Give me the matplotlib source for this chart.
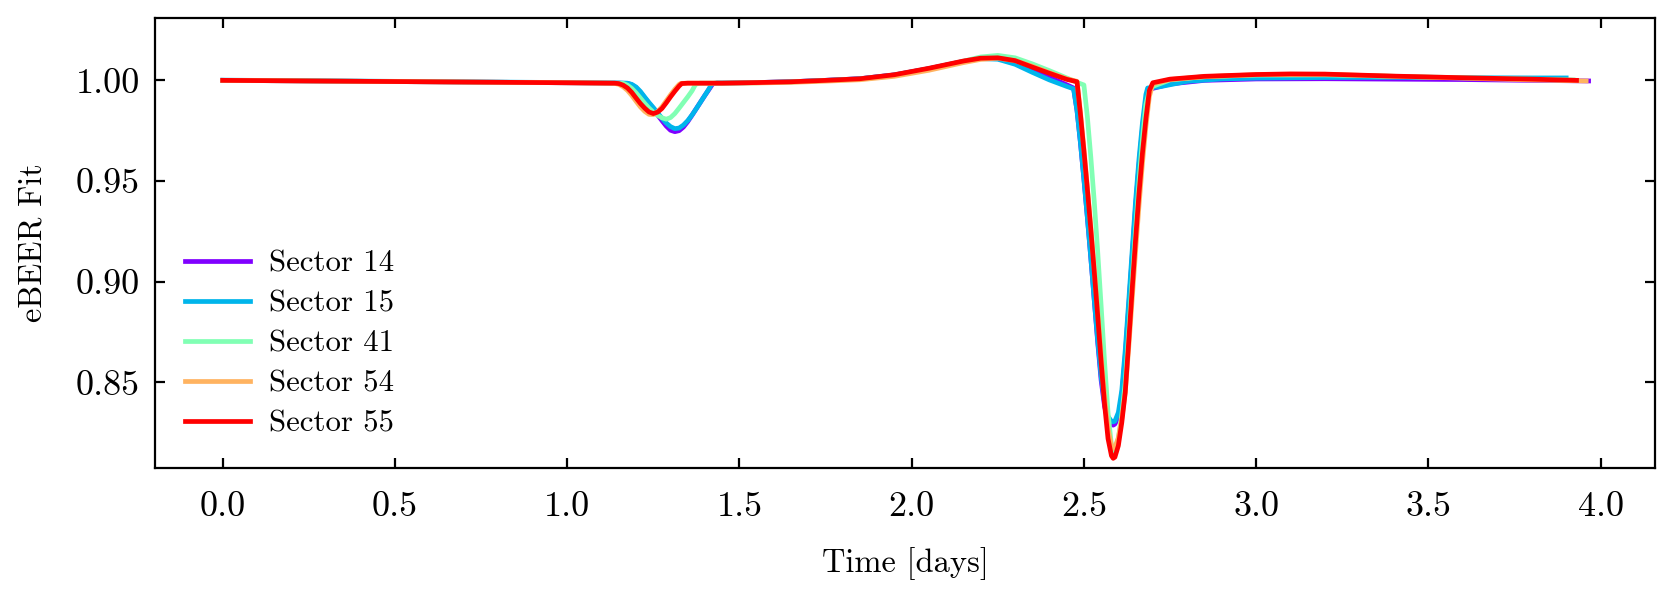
import numpy as np
import matplotlib
matplotlib.use("Agg")
import matplotlib.pyplot as plt

plt.rcParams["font.family"] = "serif"
plt.rcParams["font.serif"] = ["cmr10"]
plt.rcParams["mathtext.fontset"] = "cm"
plt.rcParams["axes.unicode_minus"] = False
plt.rcParams["font.size"] = 11.7
plt.rcParams["xtick.labelsize"] = 13
plt.rcParams["ytick.labelsize"] = 13

labels = ["Sector 14", "Sector 15", "Sector 41", "Sector 54", "Sector 55"]

# sector 14
t14 = [0.0, 0.5, 1.0, 1.15, 1.175, 1.1875, 1.2, 1.2125, 1.225, 1.2375, 1.25, 1.2625, 1.275, 1.2875,
       1.3, 1.3125, 1.325, 1.3375, 1.35, 1.3625, 1.375, 1.3875, 1.4, 1.4125, 1.4225, 1.435, 1.45,
       1.55, 1.65, 1.75, 1.85, 1.95, 2.05, 2.15, 2.2, 2.25, 2.3, 2.35, 2.4, 2.45, 2.47,
       2.48, 2.49, 2.5, 2.51, 2.52, 2.53, 2.54, 2.55, 2.56, 2.57, 2.58, 2.585, 2.59, 2.6, 2.61,
       2.62, 2.63, 2.64, 2.65, 2.66, 2.67, 2.68, 2.685, 2.7, 2.75, 2.85, 3.0, 3.2, 3.4, 3.6, 3.8, 3.965]
f14 = [1.0000, 0.9994, 0.9988, 0.9986, 0.9985, 0.9978, 0.9963, 0.9940, 0.9913, 0.9886, 0.9858, 0.9828,
       0.9800, 0.9773, 0.9752, 0.9745, 0.9750, 0.9768, 0.9795, 0.9827, 0.9860, 0.9893, 0.9926, 0.9957,
       0.9983, 0.9986, 0.9986,
       0.9989, 0.9993, 1.0000, 1.0008, 1.0027, 1.0058, 1.0094, 1.0108, 1.0108, 1.0088, 1.0052, 1.0015,
       0.9978, 0.9962,
       0.9850, 0.9690, 0.9510, 0.9320, 0.9120, 0.8910, 0.8700, 0.8510, 0.8380, 0.8310, 0.8290, 0.8287,
       0.8292, 0.8330, 0.8430,
       0.8630, 0.8870, 0.9120, 0.9370, 0.9580, 0.9760, 0.9900, 0.9950, 0.9960, 0.9982, 1.0000, 1.0007,
       1.0008, 1.0006, 1.0004, 1.0000, 0.9997]

# sector 15
t15 = [0.0, 0.5, 1.0, 1.15, 1.175, 1.1875, 1.2, 1.2125, 1.225, 1.2375, 1.25, 1.2625, 1.275, 1.2875,
       1.3, 1.3125, 1.325, 1.3375, 1.35, 1.3625, 1.375, 1.3875, 1.4, 1.4125, 1.42, 1.435, 1.45,
       1.55, 1.65, 1.75, 1.85, 1.95, 2.05, 2.15, 2.2, 2.25, 2.3, 2.35, 2.4, 2.45, 2.47,
       2.48, 2.49, 2.5, 2.51, 2.52, 2.53, 2.54, 2.55, 2.56, 2.57, 2.58, 2.585, 2.59, 2.6, 2.61,
       2.62, 2.63, 2.64, 2.65, 2.66, 2.67, 2.68, 2.685, 2.72, 2.8, 2.9, 3.0, 3.2, 3.4, 3.6, 3.8, 3.9]
f15 = [1.0001, 0.9995, 0.9989, 0.9987, 0.9986, 0.9980, 0.9967, 0.9945, 0.9917, 0.9890, 0.9865, 0.9838,
       0.9812, 0.9788, 0.9770, 0.9760, 0.9763, 0.9778, 0.9800, 0.9828, 0.9860, 0.9893, 0.9926, 0.9960,
       0.9984, 0.9987, 0.9987,
       0.9989, 0.9993, 1.0000, 1.0008, 1.0027, 1.0058, 1.0094, 1.0108, 1.0105, 1.0080, 1.0040, 1.0002,
       0.9970, 0.9958,
       0.9850, 0.9690, 0.9510, 0.9320, 0.9120, 0.8910, 0.8710, 0.8530, 0.8400, 0.8330, 0.8306, 0.8303,
       0.8307, 0.8350, 0.8460,
       0.8660, 0.8900, 0.9150, 0.9400, 0.9610, 0.9790, 0.9930, 0.9962, 0.9968, 0.9995, 1.0007, 1.0011,
       1.0014, 1.0015, 1.0013, 1.0012, 1.0012]

# sector 41
t41 = [0.0, 0.5, 1.0, 1.15, 1.1625, 1.175, 1.1875, 1.2, 1.2125, 1.225, 1.2375, 1.25, 1.2625, 1.275,
       1.2875, 1.3, 1.3125, 1.325, 1.3375, 1.35, 1.3625, 1.3725, 1.385, 1.45,
       1.55, 1.65, 1.75, 1.85, 1.95, 2.05, 2.15, 2.2, 2.25, 2.3, 2.35, 2.4, 2.45, 2.48, 2.5,
       2.51, 2.52, 2.53, 2.54, 2.55, 2.56, 2.57, 2.58, 2.585, 2.59, 2.6, 2.61,
       2.62, 2.63, 2.64, 2.65, 2.66, 2.67, 2.68, 2.69, 2.7, 2.75, 2.85, 3.0, 3.2, 3.4, 3.6, 3.8, 3.92]
f41 = [1.0000, 0.9994, 0.9988, 0.9986, 0.9985, 0.9976, 0.9960, 0.9938, 0.9912, 0.9886, 0.9862, 0.9842,
       0.9826, 0.9814, 0.9807, 0.9815, 0.9835, 0.9862, 0.9890, 0.9918, 0.9948, 0.9980, 0.9986, 0.9986,
       0.9988, 0.9992, 0.9999, 1.0006, 1.0024, 1.0055, 1.0095, 1.0116, 1.0124, 1.0112, 1.0082, 1.0048,
       1.0012, 0.9990, 0.9977,
       0.9820, 0.9620, 0.9400, 0.9150, 0.8880, 0.8600, 0.8350, 0.8185, 0.8155, 0.8160, 0.8220, 0.8340,
       0.8500, 0.8750, 0.9010, 0.9260, 0.9500, 0.9710, 0.9880, 0.9950, 0.9970, 1.0002, 1.0018, 1.0026,
       1.0027, 1.0020, 1.0013, 1.0006, 1.0002]

# sector 54
t54 = [0.0, 0.5, 1.0, 1.125, 1.1375, 1.15, 1.1625, 1.175, 1.1875, 1.2, 1.2125, 1.225, 1.2375, 1.25,
       1.2625, 1.275, 1.2875, 1.3, 1.3125, 1.325, 1.33, 1.35, 1.45,
       1.55, 1.65, 1.75, 1.85, 1.95, 2.05, 2.15, 2.2, 2.25, 2.3, 2.35, 2.4, 2.45, 2.48,
       2.49, 2.5, 2.51, 2.52, 2.53, 2.54, 2.55, 2.56, 2.57, 2.58, 2.585, 2.59, 2.6, 2.61,
       2.62, 2.63, 2.64, 2.65, 2.66, 2.67, 2.68, 2.69, 2.7, 2.75, 2.85, 3.0, 3.2, 3.4, 3.6, 3.8, 3.958]
f54 = [1.0000, 0.9994, 0.9988, 0.9986, 0.9985, 0.9980, 0.9968, 0.9950, 0.9925, 0.9896, 0.9868, 0.9846,
       0.9831, 0.9830, 0.9845, 0.9868, 0.9898, 0.9928, 0.9956, 0.9980, 0.9985, 0.9986, 0.9986,
       0.9987, 0.9990, 0.9996, 1.0003, 1.0020, 1.0050, 1.0088, 1.0104, 1.0110, 1.0098, 1.0070, 1.0038,
       1.0008, 0.9995,
       0.9840, 0.9660, 0.9470, 0.9270, 0.9060, 0.8850, 0.8630, 0.8430, 0.8270, 0.8185, 0.8171, 0.8176,
       0.8225, 0.8320,
       0.8450, 0.8670, 0.8910, 0.9150, 0.9380, 0.9590, 0.9770, 0.9920, 0.9982, 1.0004, 1.0018, 1.0028,
       1.0030, 1.0020, 1.0011, 1.0002, 0.9997]

# sector 55
t55 = [0.0, 0.5, 1.0, 1.125, 1.1375, 1.15, 1.1625, 1.175, 1.1875, 1.2, 1.2125, 1.225, 1.2375, 1.25,
       1.2625, 1.275, 1.2875, 1.3, 1.3125, 1.325, 1.3325, 1.35, 1.45,
       1.55, 1.65, 1.75, 1.85, 1.95, 2.05, 2.15, 2.2, 2.25, 2.3, 2.35, 2.4, 2.45, 2.48,
       2.49, 2.5, 2.51, 2.52, 2.53, 2.54, 2.55, 2.56, 2.57, 2.58, 2.585, 2.59, 2.6, 2.61,
       2.62, 2.63, 2.64, 2.65, 2.66, 2.67, 2.68, 2.69, 2.7, 2.75, 2.85, 3.0, 3.1, 3.2, 3.4, 3.6, 3.8, 3.93]
f55 = [1.0000, 0.9994, 0.9988, 0.9986, 0.9986, 0.9984, 0.9976, 0.9962, 0.9940, 0.9912, 0.9885, 0.9862,
       0.9843, 0.9835, 0.9842, 0.9860, 0.9888, 0.9918, 0.9946, 0.9972, 0.9984, 0.9986, 0.9986,
       0.9989, 0.9993, 1.0000, 1.0008, 1.0028, 1.0060, 1.0096, 1.0110, 1.0112, 1.0098, 1.0066, 1.0035,
       1.0005, 0.9993,
       0.9830, 0.9650, 0.9460, 0.9260, 0.9050, 0.8830, 0.8600, 0.8390, 0.8220, 0.8135, 0.8122, 0.8128,
       0.8185, 0.8300,
       0.8450, 0.8700, 0.8960, 0.9210, 0.9440, 0.9640, 0.9810, 0.9950, 0.9988, 1.0006, 1.0020, 1.0029,
       1.0032, 1.0031, 1.0021, 1.0013, 1.0006, 1.0000]

times = [t14, t15, t41, t54, t55]
fits = [f14, f15, f41, f54, f55]
colors = plt.cm.rainbow(np.linspace(0, 1, len(labels)))

fig = plt.figure(figsize=(8.37, 2.995), dpi=200)
ax = fig.add_axes([0.0926, 0.2187, 0.896, 0.752])

for t, f, c, lab in zip(times, fits, colors, labels):
    ax.plot(t, f, color=c, lw=1.7, label=lab)

ax.set_xlim(-0.1965, 4.1576)
ax.set_ylim(0.8074, 1.0312)
ax.set_yticks([0.85, 0.90, 0.95, 1.00])
ax.set_xticks(np.arange(0, 4.01, 0.5))
ax.tick_params(direction="in", top=True, right=True, length=3.6)
ax.tick_params(axis="x", pad=8.5)
ax.tick_params(axis="y", pad=5.5)
ax.set_xlabel("Time [days]", labelpad=8.5)
ax.set_ylabel("eBEER Fit", labelpad=10)

ax.legend(loc="center left", bbox_to_anchor=(0.0115, 0.276), frameon=False, fontsize=11.1,
          handlelength=2.12, handletextpad=0.62, labelspacing=0.40, borderpad=0.4, borderaxespad=0)

fig.savefig("out.png", dpi=200)
